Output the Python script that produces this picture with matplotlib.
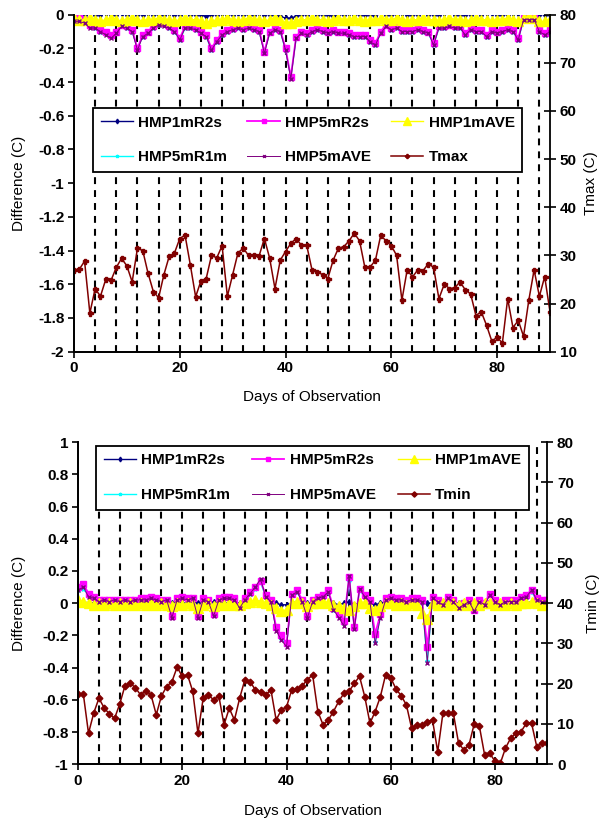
import numpy as np
import matplotlib
matplotlib.use("Agg")
import matplotlib.pyplot as plt
from matplotlib.ticker import FuncFormatter, MultipleLocator

plt.rcParams['font.family'] = ['Liberation Sans', 'DejaVu Sans']
plt.rcParams['font.weight'] = 'bold'
plt.rcParams['font.size'] = 11

# ---------------- data ----------------
days = np.arange(0, 91)
marker_days = list(range(4, 89, 4))          # dashed reference lines

series_names = ["HMP1mR2s", "HMP5mR2s", "HMP1mAVE", "HMP5mR1m", "HMP5mAVE"]

# daily max / min air temperature (C)
tmax = [27, 27.1, 28.8, 18, 23.1, 21.5, 25, 24.8, 27.5, 29.4,
        27.8, 24.5, 31.5, 31, 26.3, 22.5, 21.2, 26, 29.8, 30.5,
        33.5, 34.2, 28, 21.4, 24.7, 25.2, 30, 29.5, 32, 21.5,
        26, 30.5, 31.5, 30, 30, 29.9, 33.5, 29.4, 23.1, 29,
        30.8, 32.5, 33.5, 32.1, 32.1, 27, 26.6, 26, 25.2, 29,
        31.5, 31.8, 33, 34.6, 33, 27.5, 27.6, 29, 34.2, 33,
        32, 30, 20.7, 27, 25.5, 27, 26.8, 28.3, 27.5, 21,
        24, 23.1, 23.3, 24.5, 22.8, 22, 17.5, 18.3, 15.5, 12.2,
        13, 11.8, 21, 15, 16.5, 13.2, 20.7, 27, 21.5, 25.6,
        18.3]

tmin = [17.5, 17.5, 7.7, 12.7, 16.4, 14, 12.5, 11.4, 15, 19.5,
        20.1, 19, 17.2, 18.3, 17.2, 12.3, 17, 19.3, 20.5, 24.1,
        21.8, 22.2, 18.1, 7.7, 16.4, 17.2, 16, 17, 9.8, 13.9,
        11, 16.4, 21, 20.5, 18.5, 18, 17.2, 18.5, 11, 13.5,
        14.3, 18.5, 18.7, 19.5, 21, 22.2, 13.1, 9.8, 11, 13.1,
        15.6, 17.6, 18.1, 20.1, 21.8, 16.8, 10.2, 13.1, 16.8, 22.2,
        21.4, 18.7, 17, 14.7, 8.9, 9.8, 9.8, 10.6, 11, 3.1,
        12.7, 12.7, 12.7, 5.2, 3.6, 4.8, 10, 9.4, 2.3, 2.7,
        0.7, 0.2, 4, 6.5, 7.7, 8.1, 10.2, 10.2, 4.4, 5.2,
        5.2]

# differences, in units of 0.01 C  -- Tmax period
max_hmp1_r2s = [1, 1, 0, 1, 0, 0, 1, 0, 0, 1,
                0, 1, 0, 0, 1, 0, 0, 0, 1, 0,
                0, 1, 0, 0, 0, -1, 0, 0, 1, 0,
                0, 1, 0, 0, 0, 1, 0, 0, 0, -1,
                -2, -2, -1, 0, 0, 1, 0, 0, 0, -1,
                0, 0, 1, 0, 0, 0, 0, -1, 1, 0,
                0, 0, 1, 0, 0, 0, 1, 0, 0, 0,
                1, 1, 0, 0, 0, 0, 1, 0, 1, 1,
                0, 0, 0, 1, 1, 1, 0, -1, 0, 0,
                0]
max_hmp5_r2s = [0, 1, -3, -6, -7, -9, -10, -12, -10, -6,
                -7, -9, -20, -12, -10, -7, -5, -5, -7, -9,
                -14, -7, -7, -8, -10, -12, -20, -15, -11, -9,
                -8, -7, -8, -7, -8, -9, -22, -10, -8, -9,
                -20, -37, -13, -10, -11, -9, -8, -9, -10, -9,
                -10, -10, -11, -12, -12, -12, -15, -17, -10, -6,
                -8, -7, -9, -9, -9, -8, -9, -10, -17, -7,
                -7, -6, -7, -7, -11, -8, -9, -9, -12, -9,
                -10, -9, -8, -9, -14, -2, -1, -2, -9, -11,
                -9]
max_hmp1_ave = [-2, -3, -3, -2, -3, -4, -3, -2, -3, -4,
                -3, -2, -3, -4, -3, -3, -2, -3, -3, -4,
                -3, -2, -3, -3, -4, -5, -4, -3, -3, -2,
                -3, -4, -3, -2, -3, -3, -4, -3, -2, -3,
                -5, -5, -4, -3, -3, -2, -3, -3, -4, -3,
                -2, -3, -3, -2, -3, -4, -3, -3, -2, -3,
                -3, -2, -3, -4, -3, -3, -2, -3, -3, -4,
                -3, -2, -3, -3, -4, -3, -2, -3, -3, -4,
                -3, -3, -2, -3, -4, -2, -1, -2, -4, -4,
                -3]
max_hmp5_r1m = [-3, -4, -5, -7, -8, -10, -11, -13, -11, -7,
                -8, -10, -20, -13, -11, -8, -6, -6, -8, -10,
                -15, -8, -8, -9, -11, -13, -21, -16, -12, -10,
                -9, -8, -9, -8, -9, -10, -22, -11, -9, -10,
                -21, -37, -14, -11, -12, -10, -9, -10, -11, -10,
                -11, -11, -12, -13, -13, -13, -16, -18, -11, -7,
                -9, -8, -10, -10, -10, -9, -10, -11, -18, -8,
                -8, -7, -8, -8, -12, -9, -10, -10, -13, -10,
                -11, -10, -9, -10, -15, -3, -2, -3, -10, -12,
                -10]
max_hmp5_ave = [-4, -4, -5, -8, -8, -10, -12, -14, -11, -7,
                -8, -10, -21, -13, -11, -8, -6, -7, -8, -10,
                -15, -8, -8, -9, -11, -13, -21, -16, -12, -10,
                -9, -8, -9, -8, -9, -10, -23, -11, -9, -10,
                -21, -38, -14, -11, -12, -10, -9, -10, -11, -10,
                -11, -11, -12, -13, -13, -13, -16, -18, -11, -7,
                -9, -8, -10, -10, -10, -9, -10, -11, -18, -8,
                -8, -7, -8, -8, -12, -9, -10, -10, -13, -10,
                -11, -10, -9, -10, -15, -3, -3, -3, -10, -12,
                -10]

# differences, in units of 0.01 C  -- Tmin period
min_hmp1_r2s = [1, 1, 0, 0, 1, 0, 0, 1, 0, 0,
                0, 1, 0, 0, 0, 1, 0, 0, 0, 1,
                0, 0, 1, 0, 0, 0, 1, 0, 0, 0,
                1, 0, 0, 0, 1, 1, 0, 0, 0, -1,
                -1, 0, 1, 0, 0, 0, 1, 0, 0, 0,
                -1, 0, 1, -1, 0, 0, 0, -1, 0, 1,
                0, 0, 1, 0, 0, 0, 1, 0, 0, 0,
                0, 1, 0, 0, 0, 1, 0, 0, 0, 1,
                0, 0, 0, 1, 0, 0, 0, 1, 0, 0,
                0]
min_hmp5_r2s = [10, 12, 6, 4, 2, 2, 2, 2, 2, 2,
                2, 2, 3, 3, 4, 3, 2, 2, -8, 3,
                4, 3, 3, -8, 3, 2, -7, 3, 4, 4,
                3, -2, 3, 7, 10, 14, 5, 2, -15, -20,
                -25, 6, 8, 2, -8, 2, 4, 5, 8, -3,
                -7, -11, 16, -15, 9, 5, 2, -19, -7, 3,
                4, 3, 3, 2, 3, 3, 2, -27, 4, 2,
                0, 4, 2, -2, 0, 2, -4, 2, 0, 6,
                2, 0, 2, 2, 2, 4, 5, 8, 3, 2,
                2]
min_hmp1_ave = [2, 1, 0, -1, 0, -1, 0, -1, 0, -1,
                0, -1, 0, -1, 0, -1, 0, -1, -2, 0,
                -1, 0, -1, -3, -1, 0, -2, 0, -1, 0,
                -1, -1, 0, 1, 2, 1, 0, -1, -3, -5,
                -4, 0, 1, 0, -2, 0, 0, 1, 0, -1,
                -2, -3, -4, -2, 0, 0, -3, -4, -2, 0,
                0, -1, 0, -1, 0, -1, -6, -10, 0, -1,
                0, -1, 0, -1, 0, -1, 0, -1, 0, 0,
                -1, 0, -1, 0, -1, 0, 0, 1, 0, -1,
                0]
min_hmp5_r1m = [8, 9, 5, 3, 2, 1, 2, 1, 2, 1,
                2, 1, 2, 3, 3, 2, 2, 1, -7, 2,
                3, 2, 2, -7, 2, 1, -6, 2, 3, 3,
                2, -2, 2, 6, 9, 13, 4, 1, -16, -22,
                -26, 5, 7, 1, -7, 1, 3, 4, 7, -4,
                -8, -13, 14, -15, 8, 4, 1, -24, -8, 2,
                3, 2, 2, 1, 2, 2, 1, -36, 3, 1,
                0, 3, 1, -2, 0, 1, -4, 1, 0, 5,
                1, 0, 1, 1, 1, 3, 4, 7, 2, 1,
                1]
min_hmp5_ave = [8, 10, 4, 3, 1, 2, 1, 2, 1, 2,
                1, 2, 2, 2, 3, 2, 1, 2, -9, 2,
                3, 2, 3, -9, 2, 1, -8, 2, 3, 3,
                2, -3, 2, 6, 10, 15, 4, 1, -17, -23,
                -27, 5, 7, 1, -9, 1, 3, 4, 7, -4,
                -9, -14, 17, -16, 9, 4, 1, -25, -9, 2,
                3, 2, 2, 1, 2, 2, 1, -37, 3, 1,
                -1, 3, 1, -3, -1, 1, -5, 1, -1, 5,
                1, -1, 1, 1, 1, 3, 4, 8, 2, 1,
                1]

# ---------------- style ----------------
STYLES = [  # color, marker, markersize, linewidth, zorder
    ("#000080", "d", 3.0, 1.0, 2.0),
    ("#ff00ff", "s", 4.0, 1.3, 2.1),
    ("#ffff00", "^", 6.5, 1.0, 2.2),
    ("#00ffff", "*", 3.0, 1.0, 1.8),   # hidden under the others in the original
    ("#800080", "x", 2.5, 0.7, 2.3),
]
TEMP_COLOR = "#800000"


def _fmt(v, _pos):
    return f"{round(v, 1):g}"


def draw_panel(ax, diffs, temp, temp_label, temp_marker, temp_ms, ylim, tlim, leg_box):
    for d in marker_days:
        ax.axvline(d, color="k", lw=1.5, ls=(0, (3.3, 2.9)), zorder=0.5)

    handles = []
    for name, vals, (c, m, ms, lw, z) in zip(series_names, diffs, STYLES):
        h, = ax.plot(days, np.array(vals) / 100.0, color=c, lw=lw,
                     marker=m, ms=ms, mec=c, mfc=c, mew=1.0, label=name,
                     zorder=z)
        handles.append(h)

    ax.set_xlim(0, 90)
    ax.set_ylim(*ylim)
    ax.xaxis.set_major_locator(MultipleLocator(20))
    ax.yaxis.set_major_locator(MultipleLocator(0.2))
    ax.yaxis.set_major_formatter(FuncFormatter(_fmt))
    ax.tick_params(axis="both", direction="out", length=4, width=1.2,
                   labelsize=11, pad=3)
    ax.set_xlabel("Days of Observation", fontsize=11)
    ax.set_ylabel("Difference (C)", fontsize=11)

    ax2 = ax.twinx()
    h, = ax2.plot(days, temp, color=TEMP_COLOR, lw=1.1, marker=temp_marker,
                  ms=temp_ms, mec=TEMP_COLOR, mfc=TEMP_COLOR, mew=1.0,
                  label=temp_label)
    handles.append(h)
    ax2.set_ylim(*tlim)
    ax2.yaxis.set_major_locator(MultipleLocator(10))
    ax2.tick_params(axis="y", direction="inout", length=8, width=1.2,
                    labelsize=11, pad=3)
    ax2.set_ylabel(f"{temp_label} (C)", fontsize=11)

    for a in (ax, ax2):
        a.spines["top"].set_visible(False)
        for s in ("left", "right", "bottom"):
            a.spines[s].set_linewidth(1.3)
    ax.spines["right"].set_visible(False)

    # legend reads row by row (3 per row); matplotlib fills by column
    order = [0, 3, 1, 4, 2, 5]
    hs = [handles[i] for i in order]
    leg = ax2.legend(hs, [hh.get_label() for hh in hs], ncol=3,
                     loc="upper left", bbox_to_anchor=leg_box, mode="expand",
                     borderaxespad=0, fancybox=False, framealpha=1,
                     edgecolor="k", borderpad=0.5, labelspacing=1.35,
                     handlelength=2.1, handletextpad=0.35, fontsize=11,
                     markerscale=0.8)
    leg.get_frame().set_linewidth(1.3)
    return ax2


fig = plt.figure(figsize=(6.1, 8.24), dpi=100)

ax_top = fig.add_axes([0.1213, 0.5732, 0.7803, 0.409])
ax2_top = draw_panel(ax_top,
                     [max_hmp1_r2s, max_hmp5_r2s, max_hmp1_ave, max_hmp5_r1m, max_hmp5_ave],
                     tmax, "Tmax", "P", 3.6, (-2, 0), (10, 80),
                     (0.040, 0.523, 0.902, 0.2))
ax_top.yaxis.set_label_coords(-0.10, 0.5)
ax_top.xaxis.set_label_coords(0.5, -0.113)
ax2_top.yaxis.set_label_coords(1.071, 0.5)

ax_bot = fig.add_axes([0.128, 0.0725, 0.769, 0.391])
ax2_bot = draw_panel(ax_bot,
                     [min_hmp1_r2s, min_hmp5_r2s, min_hmp1_ave, min_hmp5_r1m, min_hmp5_ave],
                     tmin, "Tmin", "D", 3.4, (-1, 1), (0, 80),
                     (0.038, 0.7885, 0.923, 0.2))
ax_bot.yaxis.set_label_coords(-0.11, 0.5)
ax_bot.xaxis.set_label_coords(0.5, -0.124)
ax2_bot.yaxis.set_label_coords(1.083, 0.5)

fig.savefig("out.png", dpi=100)
